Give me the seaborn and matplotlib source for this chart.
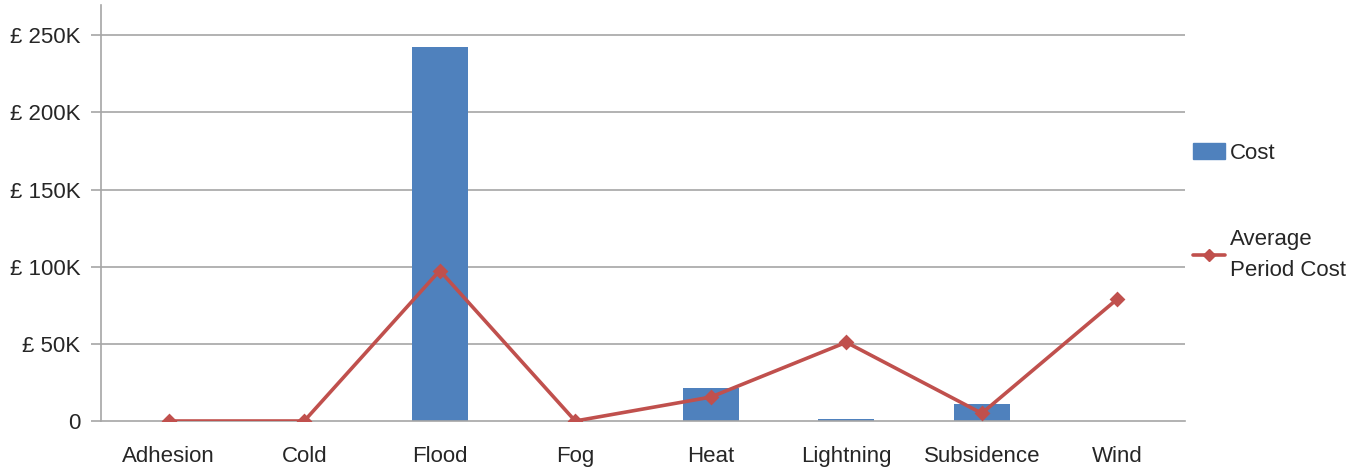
import seaborn as sns
import matplotlib.pyplot as plt
from matplotlib.patches import Patch
from matplotlib.lines import Line2D
from matplotlib.ticker import FuncFormatter

# Данные
categories = ['Adhesion', 'Cold', 'Flood', 'Fog', 'Heat', 'Lightning', 'Subsidence', 'Wind']
cost = [0, 0, 242500, 0, 21500, 1500, 11000, 0]
avg_period_cost = [0, 0, 97500, 0, 15500, 51000, 5000, 79000]

bar_color = '#4F81BD'
line_color = '#C0504D'
grid_color = '#A6A6A6'

sns.set_style('white')
plt.rcParams['font.family'] = ['Liberation Sans', 'DejaVu Sans']

fig = plt.figure(figsize=(13.59, 4.67), dpi=100)
ax = fig.add_axes([0.0743, 0.0985, 0.7977, 0.8905])

# Столбцы
sns.barplot(x=categories, y=cost, ax=ax, color=bar_color, width=0.41,
            saturation=1, errorbar=None, zorder=2, linewidth=0)

# Линия среднего
sns.pointplot(x=categories, y=avg_period_cost, ax=ax, color=line_color,
              markers='D', markersize=6, linewidth=2.6, errorbar=None, zorder=3)

ax.set_xlim(-0.5, 7.5)
ax.set_ylim(0, 269500)
ax.set_yticks([0, 50000, 100000, 150000, 200000, 250000])
ax.yaxis.set_major_formatter(FuncFormatter(
    lambda v, p: '0' if v == 0 else f'£ {int(v / 1000)}K'))

# Сетка
ax.grid(False)
for v in [50000, 100000, 150000, 200000, 250000]:
    ax.axhline(v, color=grid_color, linewidth=1.2, zorder=0)

for s in ['top', 'right']:
    ax.spines[s].set_visible(False)
for s in ['left', 'bottom']:
    ax.spines[s].set_color(grid_color)
    ax.spines[s].set_linewidth(1.2)

# Засечки на оси X между категориями
ax.set_xticks([i + 0.5 for i in range(-1, 8)], minor=True)
ax.tick_params(axis='x', which='minor', length=7, color=grid_color, width=1.2)
ax.tick_params(axis='x', which='major', length=0, labelsize=16, pad=18)
ax.tick_params(axis='y', length=7, color=grid_color, width=1.2, labelsize=16, pad=8,
               left=True)
ax.set_xlabel('')
ax.set_ylabel('')

handles = [Patch(color=bar_color),
           Line2D([0], [0], color=line_color, linewidth=2.6, marker='D', markersize=6)]
leg = fig.legend(handles, ['Cost', 'Average\nPeriod Cost'], loc='upper left',
                 bbox_to_anchor=(0.878, 0.694), frameon=False, fontsize=16,
                 borderaxespad=0, borderpad=0, handlelength=1.45, handletextpad=0.2,
                 labelspacing=2.95)
for t in leg.get_texts():
    t.set_linespacing(1.6)

fig.savefig('out.png', dpi=100)
